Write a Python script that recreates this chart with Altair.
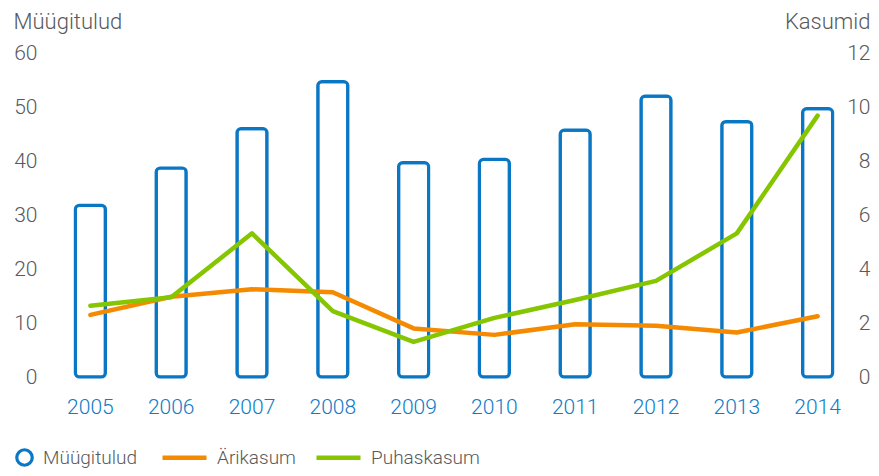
import altair as alt
import pandas as pd

years = ["2005", "2006", "2007", "2008", "2009", "2010", "2011", "2012", "2013", "2014"]
sales = [31.8, 38.7, 46.0, 54.7, 39.7, 40.3, 45.7, 52.0, 47.3, 49.7]
operating_profit = [2.30, 2.97, 3.25, 3.14, 1.80, 1.56, 1.95, 1.90, 1.65, 2.25]
net_profit = [2.64, 2.95, 5.32, 2.44, 1.30, 2.19, 2.85, 3.56, 5.32, 9.68]
left_ticks = [0, 10, 20, 30, 40, 50, 60]
right_ticks = [0, 2, 4, 6, 8, 10, 12]

bars_df = pd.DataFrame({"year": years, "value": sales, "series": ["Müügitulud"] * len(years)})
lines_df = pd.DataFrame({
    "year": years + years,
    "value": operating_profit + net_profit,
    "series": ["Ärikasum"] * len(years) + ["Puhaskasum"] * len(years),
})

FONT = "Roboto"
GREY = "#58595b"
BLUE = "#0a77c4"
LABEL_BLUE = "#0d7bc5"
ORANGE = "#f58a00"
GREEN = "#85c600"

x_enc = alt.X(
    "year:N",
    sort=years,
    scale=alt.Scale(paddingInner=0, paddingOuter=0),
    axis=alt.Axis(title=None, labelAngle=0, labelColor=LABEL_BLUE, labelFontSize=21,
                  labelPadding=19, ticks=False, domain=False, grid=False,
                  labelFont=FONT, labelFontWeight=300),
)

bars = alt.Chart(bars_df).mark_bar(
    width=30, stroke=BLUE, strokeWidth=3.2, cornerRadius=4
).encode(
    x=x_enc,
    y=alt.Y("value:Q", scale=alt.Scale(domain=[0, 60], nice=False),
            axis=alt.Axis(values=left_ticks, title="Müügitulud", titleAngle=0, titleX=-37, titleY=-25,
                          titleAlign="left", titleBaseline="alphabetic", titleFontSize=22,
                          titleColor=GREY, titleFont=FONT, titleFontWeight=300,
                          labelFontSize=21, labelColor=GREY, labelFont=FONT, labelFontWeight=300,
                          labelPadding=13, ticks=False, domain=False, grid=False)),
    fill=alt.Fill("series:N", scale=alt.Scale(domain=["Müügitulud"], range=["white"]),
                  legend=alt.Legend(orient="none", legendX=-35, legendY=395, title=None,
                                    symbolType="circle", symbolSize=240, symbolStrokeWidth=3.2,
                                    symbolFillColor="white", symbolStrokeColor=BLUE,
                                    labelFontSize=19, labelColor=GREY, labelFont=FONT,
                                    labelFontWeight=300, labelOffset=9, padding=0)),
)

lines = alt.Chart(lines_df).mark_line(strokeWidth=4.5, strokeCap="round", strokeJoin="round").encode(
    x=alt.X("year:N", sort=years),
    y=alt.Y("value:Q", scale=alt.Scale(domain=[0, 12], nice=False),
            axis=alt.Axis(orient="right", values=right_ticks, title="Kasumid", titleAngle=0,
                          titleX=12, titleY=-25, titleAlign="right", titleBaseline="alphabetic",
                          titleFontSize=22, titleColor=GREY, titleFont=FONT, titleFontWeight=300,
                          labelAlign="right", labelFontSize=21, labelColor=GREY, labelFont=FONT,
                          labelFontWeight=300, labelPadding=12, ticks=False, domain=False, grid=False)),
    color=alt.Color("series:N", scale=alt.Scale(domain=["Ärikasum", "Puhaskasum"], range=[ORANGE, GREEN]),
                    legend=alt.Legend(orient="none", legendX=121, legendY=391, title=None,
                                      direction="horizontal", symbolType="M-2,0H2", symbolSize=484,
                                      symbolStrokeWidth=4.5, labelFontSize=19, labelColor=GREY,
                                      labelFont=FONT, labelFontWeight=300, labelOffset=19,
                                      columnPadding=11, padding=0)),
)

chart = alt.layer(bars, lines).resolve_scale(y="independent", color="independent", fill="independent").properties(
    width=808, height=324,
    autosize=alt.AutoSizeParams(type="none"),
    padding={"left": 42, "top": 45, "right": 13, "bottom": 91},
).configure_view(stroke=None)

chart.save("out.html", embed_options={"renderer": "svg", "actions": False})
